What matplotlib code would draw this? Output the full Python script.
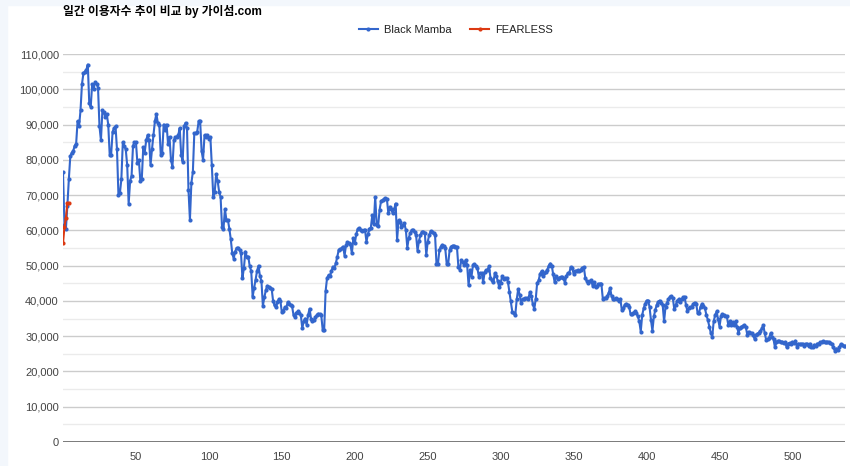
import numpy as np
import matplotlib
matplotlib.use("Agg")
import matplotlib.pyplot as plt
from matplotlib.lines import Line2D
from matplotlib.patches import Rectangle
from matplotlib.ticker import FuncFormatter, MultipleLocator

plt.rcParams['font.family'] = ['Liberation Sans', 'Noto Sans CJK KR', 'DejaVu Sans']

title = '일간 이용자수 추이 비교 by 가이섬.com'
series_names = ['Black Mamba', 'FEARLESS']

# 일간 이용자수 (단위: 천 명), day 0 부터
black_mamba_k = [
    # day 0 ~ 115
    76.5, 61.5, 60.5, 67, 74.5, 81, 82, 82.5, 84, 84.5, 91, 89.5, 94, 101.5, 104.5, 105, 105.5, 107,
    96, 95, 101.5, 100, 102, 101.5, 100.5, 89.5, 85.5, 94, 93.5, 92, 93, 90, 81.5, 81.5, 88, 89,
    89.5, 83, 70, 70.5, 74.5, 85, 84, 83, 78.5, 67.5, 74, 75.5, 84, 85, 85, 79, 80, 74, 74.5, 83.5,
    82, 85.5, 87, 85.5, 78.5, 83, 87, 91, 93, 90.5, 90, 81.5, 82, 90, 88.5, 90, 84.5, 86.5, 80, 78,
    85.5, 86.5, 86.5, 87, 89, 81.5, 79.5, 89.5, 90.5, 89, 71.5, 63, 73.5, 76.5, 87.5, 87.5, 88, 91,
    91, 82.5, 80, 87, 86.5, 87, 86, 86.5, 78.5, 69.5, 71, 76, 74, 71, 69.5, 61, 60.5, 66, 63, 63,
    60.5, 57.5,
    # day 116 ~ 189
    53.5, 52, 54, 55, 55, 54.5, 53.5, 46.5, 49.3, 54, 52.5, 52.5, 49.8, 48.5, 41.2, 43.7, 46, 48.5,
    50, 47, 45.7, 38.6, 41, 43, 44.3, 44, 43.8, 43.5, 40, 38.7, 38.2, 39.8, 40.5, 40, 36.8, 37.2,
    38.2, 38.0, 39.6, 39.2, 38.7, 38.5, 36, 35.5, 36.7, 37, 36.5, 36, 32.3, 34.2, 35, 33.2, 36, 37.8,
    35, 34.4, 34.6, 35.5, 36, 36.4, 36.2, 36, 31.8, 31.7, 42.8, 46.5, 47.3, 47, 48.5, 49.7, 49.3,
    50.7, 52.5, 54.5,
    # day 190 ~ 286
    54.6, 54.9, 55.4, 52.8, 55.9, 56.6, 56.3, 56, 53.5, 57.7, 56.3, 58.9, 60.4, 60.6, 60.2, 59.8,
    60.1, 60.1, 56.8, 58.9, 60.4, 60.8, 64.3, 61.7, 69.5, 61.5, 61.3, 65.8, 68.3, 68.6, 68.8, 69.1,
    68.9, 64.8, 66.7, 66, 64.8, 66, 67.6, 57.3, 62.9, 62.5, 61, 61.5, 62, 60.1, 55.1, 57.9, 59.2,
    60.1, 60.1, 59.5, 58.7, 54.2, 57, 58.7, 59.6, 59.6, 59.3, 53, 56.8, 58.7, 59.8, 59.5, 59.2, 58.7,
    50.5, 50.5, 54.4, 55.4, 55.9, 55.5, 54.9, 50.5, 50.5, 54.4, 55.4, 55.7, 55.6, 55.4, 55.4, 49.7,
    48.8, 51.6, 51, 50.2, 51.6, 50.2, 44.4, 48.8, 46.9, 50.2, 50.4, 50, 49.4, 46.9, 47.8,
    # day 287 ~ 382
    47.9, 45.3, 48.1, 48.7, 48.9, 49.8, 46.5, 46, 45.3, 47.9, 47.2, 45.6, 43.9, 45.1, 47, 46.2, 46.4,
    46.5, 45.3, 42.5, 39.9, 36.8, 36.6, 36.1, 40.4, 43.4, 41.8, 39.4, 40.6, 40.4, 40.8, 40.7, 40.6,
    42.5, 41.3, 39.2, 37.7, 40.4, 45.1, 45.8, 47.7, 48.4, 47, 47.9, 48.2, 48.9, 50, 50.6, 50, 47.5,
    45.3, 47, 46.2, 46.5, 46.8, 46.7, 46.5, 45.1, 47, 47.9, 47.9, 49.6, 49.3, 47.7, 48.4, 48.6, 48.7,
    48.4, 48.9, 49.3, 49.6, 46.5, 45.6, 45.1, 45.6, 45.8, 44.3, 45.3, 44, 44.2, 44.8, 44.9, 44.9,
    40.6, 40.7, 40.8, 41.3, 42.3, 43.7, 41.3, 40.4, 40.4, 40.8, 40.4, 39.9, 40.6,
    # day 383 ~ 477
    37.5, 37.9, 38.9, 39.2, 38.9, 38.4, 36.3, 36.3, 36.7, 37, 36.5, 35.6, 34.2, 31.3, 36, 37.9, 39.2,
    40.1, 40.1, 38.4, 34.6, 31.5, 35.6, 37.5, 38.9, 39.8, 40.1, 39.5, 38.9, 34.2, 38.4, 39.5, 40.5,
    41.2, 41.4, 40.8, 37.6, 38.9, 40.1, 40.5, 39.8, 40.5, 41, 41.2, 38.9, 37, 37.9, 38.2, 38.4, 39.2,
    39.5, 39.2, 36.5, 36.7, 38.4, 39.2, 38.6, 37.9, 36, 34.6, 32.7, 30.9, 29.9, 34.2, 36, 37, 34.8,
    32.7, 35.6, 36.3, 36, 35.8, 35.6, 33.2, 34.2, 33.2, 33.9, 33.2, 34.2, 32.7, 30.9, 32.3, 32.7,
    32.9, 33.2, 32.7, 30.4, 31.3, 31, 30.9, 30.4, 29.2, 30.4, 30.7, 31,
    # day 478 ~ 536
    31.5, 32.2, 33.1, 30.8, 28.9, 29.1, 29.6, 30.8, 29.8, 29.1, 26.8, 28.4, 28.7, 28.5, 28.4, 28.4,
    28.2, 28.4, 26.8, 27.9, 28.1, 27.9, 28.4, 28.1, 28.7, 27, 27.9, 27.8, 27.7, 27.9, 27.2, 27.9,
    27.7, 27.2, 27.9, 27, 26.8, 27.6, 27.2, 27.9, 27.9, 28.3, 28.4, 28.6, 28.4, 28.3, 28.4, 28.4,
    28.1, 27.9, 26.8, 25.9, 26.5, 26.2, 26.8, 27.7, 27.5, 27.2, 27.2,
]
fearless_k = [56.3, 61.0, 63.6, 67.7, 67.7]

y_max = 110000
x_ticks = [50, 100, 150, 200, 250, 300, 350, 400, 450, 500]

blue = '#3366cc'
red = '#dc3912'

bm = np.array(black_mamba_k) * 1000
fl = np.array(fearless_k) * 1000
bm_days = np.arange(len(bm))
fl_days = np.arange(len(fl))

fig = plt.figure(figsize=(8.5, 4.66), dpi=100)
fig.patches.append(Rectangle((0, 0), 7 / 850, 1, transform=fig.transFigure,
                             color='#f3f7fc', zorder=0))
fig.patches.append(Rectangle((0, 1 - 5 / 466), 1, 5 / 466, transform=fig.transFigure,
                             color='#f3f7fc', zorder=0))

ax = fig.add_axes([63 / 850, 24 / 466, 782 / 850, 388 / 466])

ax.plot(bm_days, bm, color=blue, lw=1.5, marker='o', ms=3.0, mew=0, zorder=3)
ax.plot(fl_days, fl, color=red, lw=1.5, marker='o', ms=3.0, mew=0, zorder=4)

ax.set_xlim(0, len(bm) - 1)
ax.set_ylim(0, y_max)
ax.set_xticks(x_ticks)
ax.yaxis.set_major_locator(MultipleLocator(10000))
ax.yaxis.set_minor_locator(MultipleLocator(5000))
ax.yaxis.set_major_formatter(FuncFormatter(lambda v, p: f'{int(v):,}'))

ax.grid(which='major', axis='y', color='#cccccc', lw=1, zorder=0)
ax.grid(which='minor', axis='y', color='#ebebeb', lw=1, zorder=0)
ax.axhline(0, color='#666666', lw=1.2, zorder=2)
for s in ax.spines.values():
    s.set_visible(False)
ax.tick_params(axis='both', which='both', length=0, labelsize=8, labelcolor='#444444')
ax.tick_params(axis='y', pad=3)
ax.tick_params(axis='x', pad=7)

fig.text(63 / 850, 1 - 12 / 466, title, fontsize=8.5, fontweight='bold',
         ha='left', va='center', color='#000000')

handles = [Line2D([], [], color=blue, lw=1.5, marker='o', ms=3.0, mew=0),
           Line2D([], [], color=red, lw=1.5, marker='o', ms=3.0, mew=0)]
fig.legend(handles, series_names, loc='center', bbox_to_anchor=(456 / 850, 1 - 30 / 466),
           ncol=2, frameon=False, fontsize=8, handlelength=1.7, handletextpad=0.55,
           columnspacing=1.7, labelcolor='#222222', markerfirst=True, numpoints=1)

fig.savefig('out.png', dpi=100)
